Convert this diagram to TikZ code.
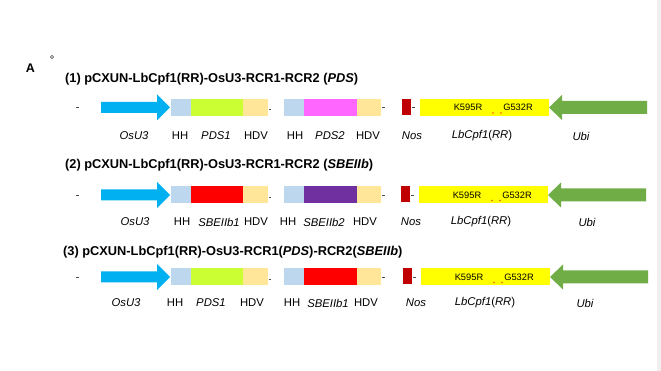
\documentclass[tikz,border=0pt]{standalone}
\usepackage{fontspec}
\setmainfont{Liberation Sans}
\definecolor{osublue}{HTML}{00B0F0}
\definecolor{hhc}{HTML}{BDD7EE}
\definecolor{pdsone}{HTML}{CCFF33}
\definecolor{hdvc}{HTML}{FFE699}
\definecolor{pdstwo}{HTML}{FF66FF}
\definecolor{sbeone}{HTML}{FF0000}
\definecolor{sbetwo}{HTML}{7030A0}
\definecolor{nosc}{HTML}{C00000}
\definecolor{yel}{HTML}{FFFF00}
\definecolor{ubig}{HTML}{70AD47}
\definecolor{dotc}{HTML}{FF5000}
\tikzset{
  ttl/.style={font=\fontsize{12.8}{15}\selectfont\bfseries, anchor=west, inner sep=0},
  lab/.style={font=\fontsize{11.3}{13}\selectfont, inner sep=0},
  ilab/.style={font=\fontsize{11.3}{13}\selectfont\itshape, inner sep=0},
  mut/.style={font=\fontsize{9.3}{11}\selectfont, inner sep=0},
  tick/.style={draw=black!70, line width=0.7pt},
}
\newcommand\construct[5]{%
  \begin{scope}[shift={(0,#1)}]
    \draw[tick] (76,0) -- (79,0);
    \fill[osublue] (101,-5.5) -- (157,-5.5) -- (157,-13) -- (170,0) -- (157,13) -- (157,5.5) -- (101,5.5) -- cycle;
    \fill[hhc] (171,-8.5) rectangle (191,8.5);
    \fill[#3] (191,-8.5) rectangle (243,8.5);
    \fill[hdvc] (243,-8.5) rectangle (268,8.5);
    \draw[tick] (269,2) -- (271,2);
    \fill[hhc] (284,-8.5) rectangle (304,8.5);
    \fill[#4] (304,-8.5) rectangle (357,8.5);
    \fill[hdvc] (357,-8.5) rectangle (381,8.5);
    \draw[tick] (382,0) -- (385,0);
    \begin{scope}[shift={(#5,0)}]
      \fill[nosc] (402,-8.5) rectangle (411,7.5);
      \draw[tick] (412,0) -- (415,0);
      \fill[yel] (420,-8.5) rectangle (549,8.5);
      \node[mut] (k#2) at (468,0) {K595R};
      \node[mut] (g#2) at (518,0) {G532R};
      \fill[dotc] (493,5.5) circle (0.8);
      \fill[dotc] (501,5.5) circle (0.8);
      \fill[ubig] (647,-6.5) -- (562,-6.5) -- (562,-12.5) -- (549,0) -- (562,12.5) -- (562,6.5) -- (647,6.5) -- cycle;
    \end{scope}
  \end{scope}}
\begin{document}
\begin{tikzpicture}[x=1pt,y=-1pt]
\useasboundingbox (0,0) rectangle (661,371);
\fill[white] (0,0) rectangle (661,371);
\fill[black!6] (657,0) rectangle (661,371);
\node[font=\fontsize{12.5}{14}\selectfont\bfseries, inner sep=0] (A) at (30.5,68.5) {A};
\draw[black!60, line width=0.6pt] (52,57) circle (1.6);

% Row 1
\node[ttl] (t1) at (65,79) {(1) pCXUN-LbCpf1(RR)-OsU3-RCR1-RCR2 (\textit{PDS})};
\construct{107.5}{a}{pdsone}{pdstwo}{0}
\node[ilab] (a1) at (134,136) {OsU3};
\node[lab]  (a2) at (180,136) {HH};
\node[ilab] (a3) at (216,136) {PDS1};
\node[lab]  (a4) at (256,136) {HDV};
\node[lab]  (a5) at (295,136) {HH};
\node[ilab] (a6) at (330,136) {PDS2};
\node[lab]  (a7) at (368,136) {HDV};
\node[ilab] (a8) at (412,136) {Nos};
\node[lab]  (a9) at (482,136) {\textit{LbCpf1}(\textit{RR})};
\node[ilab] (a10) at (581,136) {Ubi};

% Row 2
\node[ttl] (t2) at (65,165) {(2) pCXUN-LbCpf1(RR)-OsU3-RCR1-RCR2 (\textit{SBEIIb})};
\construct{195}{b}{sbeone}{sbetwo}{-1}
\node[ilab] (b1) at (135,222) {OsU3};
\node[lab]  (b2) at (182,222) {HH};
\node[ilab] (b3) at (219,222) {SBEIIb1};
\node[lab]  (b4) at (256,222) {HDV};
\node[lab]  (b5) at (288,222) {HH};
\node[ilab] (b6) at (324,222) {SBEIIb2};
\node[lab]  (b7) at (365,222) {HDV};
\node[ilab] (b8) at (411,222) {Nos};
\node[lab]  (b9) at (481,222) {\textit{LbCpf1}(\textit{RR})};
\node[ilab] (b10) at (587,222) {Ubi};

% Row 3
\node[ttl] (t3) at (63,252) {(3) pCXUN-LbCpf1(RR)-OsU3-RCR1(\textit{PDS})-RCR2(\textit{SBEIIb})};
\construct{277}{c}{pdsone}{sbeone}{1}
\node[ilab] (c1) at (126,303) {OsU3};
\node[lab]  (c2) at (175,303) {HH};
\node[ilab] (c3) at (211,303) {PDS1};
\node[lab]  (c4) at (252,303) {HDV};
\node[lab]  (c5) at (292,303) {HH};
\node[ilab] (c6) at (328,303) {SBEIIb1};
\node[lab]  (c7) at (366,303) {HDV};
\node[ilab] (c8) at (416,303) {Nos};
\node[lab]  (c9) at (485,303) {\textit{LbCpf1}(\textit{RR})};
\node[ilab] (c10) at (585,303) {Ubi};
\end{tikzpicture}
\end{document}
